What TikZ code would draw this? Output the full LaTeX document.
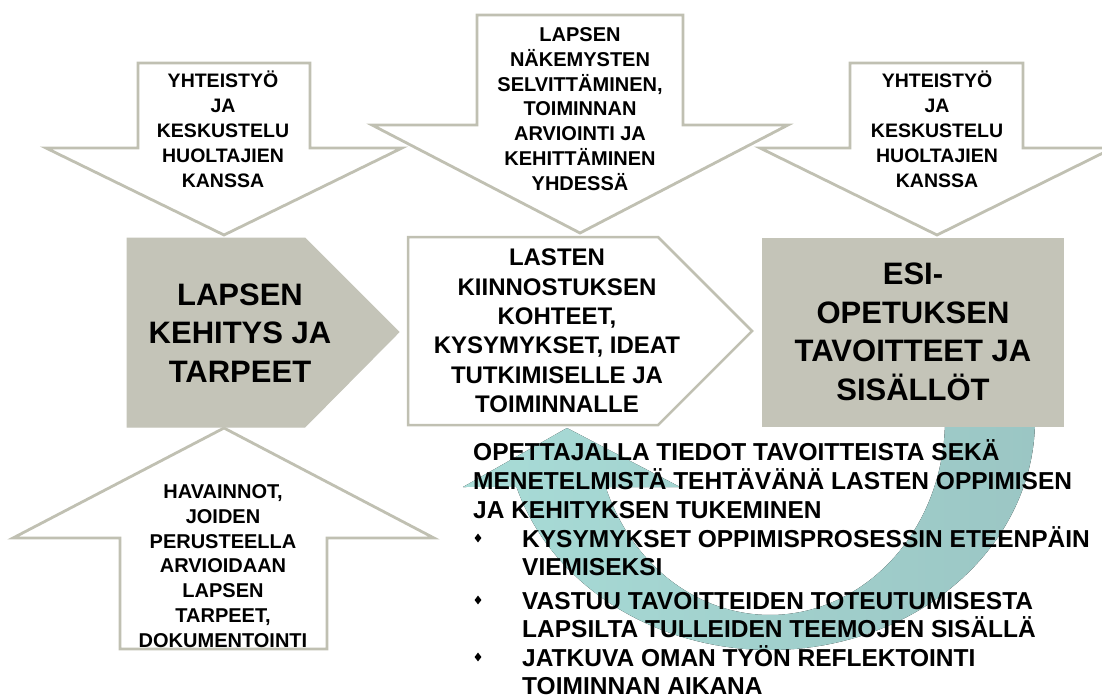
\documentclass[tikz,border=0pt]{standalone}
\usepackage{fontspec}
\setmainfont{Liberation Sans}
\usetikzlibrary{shapes.geometric}
\definecolor{boxgray}{RGB}{196,196,184}
\definecolor{edgegray}{RGB}{192,192,178}
\definecolor{tealL}{RGB}{168,220,215}
\definecolor{tealD}{RGB}{155,198,196}
\tikzset{
  blockarrow/.style={draw=edgegray, line width=2.8pt, fill=white, line join=miter},
  graybox/.style={fill=boxgray, draw=boxgray, line width=1pt},
  whitebox/.style={fill=white, draw=edgegray, line width=2.5pt},
  smalltxt/.style={align=center, font=\bfseries\fontsize{19.5}{25}\selectfont, inner sep=0pt},
  arrtxt/.style={align=center, font=\bfseries\fontsize{20}{24.8}\selectfont, inner sep=0pt},
  bigtxt/.style={align=center, font=\bfseries\fontsize{31}{38.5}\selectfont, inner sep=0pt},
  midtxt/.style={align=center, font=\bfseries\fontsize{24}{29.4}\selectfont, inner sep=0pt},
  bodytxt/.style={anchor=base west, font=\bfseries\fontsize{24.5}{29}\selectfont, inner sep=0pt},
  bulletmark/.style={diamond, fill=black, inner sep=0pt, minimum width=7pt, minimum height=9pt},
  cyclearrow/.style={left color=tealL, right color=tealD}
}
\begin{document}
\begin{tikzpicture}[x=1pt,y=-1pt]
\useasboundingbox (0,0) rectangle (1102,699);
% curved teal arrow (behind everything)
\fill[cyclearrow]
  plot[domain=-12:163.1, samples=90, variable=\t] ({770+265*cos(\t)},{420+230*sin(\t)})
  -- (463,487) -- (567,428) -- (680,487) -- (605.7,487)
  -- plot[domain=159.9:-14, samples=90, variable=\t] ({770+175*cos(\t)},{420+195*sin(\t)})
  -- cycle;
% block arrows
\draw[blockarrow] (138,63) -- (310,63) -- (310,148) -- (402,148) -- (224,235) -- (46,148) -- (138,148) -- cycle;
\draw[blockarrow] (850,63) -- (1023,63) -- (1023,148) -- (1113,148) -- (937,235) -- (760,148) -- (850,148) -- cycle;
\draw[blockarrow] (477,15) -- (683,15) -- (683,125) -- (788,125) -- (580,233) -- (372,125) -- (477,125) -- cycle;
\draw[blockarrow] (224,428) -- (434,538) -- (327,538) -- (327,649) -- (120,649) -- (120,538) -- (13,538) -- cycle;
% main boxes
\draw[graybox] (127,238) -- (305,238) -- (399,332) -- (305,427) -- (127,427) -- cycle;
\draw[whitebox] (408,237) -- (658,237) -- (752,331) -- (658,425) -- (408,425) -- cycle;
\draw[graybox] (762,238) rectangle (1063,426);
% texts in arrows
\node[smalltxt] (t1) at (223,129) {YHTEISTYÖ\\JA\\KESKUSTELU\\HUOLTAJIEN\\KANSSA};
\node[arrtxt] (t2) at (580,109) {LAPSEN\\NÄKEMYSTEN\\SELVITTÄMINEN,\\TOIMINNAN\\ARVIOINTI JA\\KEHITTÄMINEN\\YHDESSÄ};
\node[smalltxt] (t3) at (937,129) {YHTEISTYÖ\\JA\\KESKUSTELU\\HUOLTAJIEN\\KANSSA};
\node[arrtxt] (t4) at (223,566) {HAVAINNOT,\\JOIDEN\\PERUSTEELLA\\ARVIOIDAAN\\LAPSEN\\TARPEET,\\DOKUMENTOINTI};
% texts in boxes
\node[bigtxt] (b1) at (240,333) {LAPSEN\\KEHITYS JA\\TARPEET};
\node[midtxt] (b2) at (557,331) {LASTEN\\KIINNOSTUKSEN\\KOHTEET,\\KYSYMYKSET, IDEAT\\TUTKIMISELLE JA\\TOIMINNALLE};
\node[bigtxt] (b3) at (913,332) {ESI-\\OPETUKSEN\\TAVOITTEET JA\\SISÄLLÖT};
% body text
\node[bodytxt] (l1) at (473,460) {OPETTAJALLA TIEDOT TAVOITTEISTA SEKÄ};
\node[bodytxt] (l2) at (473,489) {MENETELMISTÄ TEHTÄVÄNÄ LASTEN OPPIMISEN};
\node[bodytxt] (l3) at (473,518) {JA KEHITYKSEN TUKEMINEN};
\node[bulletmark] (d1) at (478,538) {};
\node[bodytxt] (l4) at (522,547) {KYSYMYKSET OPPIMISPROSESSIN ETEENPÄIN};
\node[bodytxt] (l5) at (522,575) {VIEMISEKSI};
\node[bulletmark] (d2) at (478,600) {};
\node[bodytxt] (l6) at (522,609) {VASTUU TAVOITTEIDEN TOTEUTUMISESTA};
\node[bodytxt] (l7) at (522,637) {LAPSILTA TULLEIDEN TEEMOJEN SISÄLLÄ};
\node[bulletmark] (d3) at (478,657) {};
\node[bodytxt] (l8) at (522,666) {JATKUVA OMAN TYÖN REFLEKTOINTI};
\node[bodytxt] (l9) at (522,694) {TOIMINNAN AIKANA};
\end{tikzpicture}
\end{document}
